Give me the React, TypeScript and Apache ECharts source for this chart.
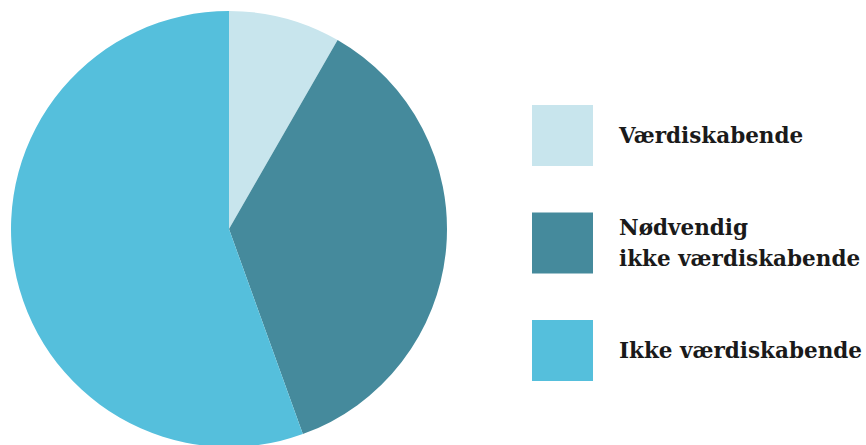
import React, { useEffect, useRef } from "react";
import * as echarts from "echarts";

const categories = ["Værdiskabende", "Nødvendig\nikke værdiskabende", "Ikke værdiskabende"];
const values = [8.3, 36.2, 55.5];
const colors = ["#c8e5ed", "#458a9c", "#55bfdc"];

export default function App() {
  const ref = useRef<HTMLDivElement>(null);
  useEffect(() => {
    document.body.style.margin = "0";
    const chart = echarts.init(ref.current!, null, { renderer: "svg" });
    chart.setOption({
      animation: false,
      backgroundColor: "#ffffff",
      legend: {
        orient: "vertical",
        left: 532,
        top: 105,
        padding: 0,
        itemWidth: 61,
        itemHeight: 61,
        itemGap: 46,
        icon: "rect",
        selectedMode: false,
        data: categories,
        textStyle: {
          fontFamily: "DejaVu Serif",
          fontWeight: "bold",
          fontSize: 21.5,
          lineHeight: 31,
          color: "#1a1a1a",
          padding: [0, 0, 0, 21],
        },
      },
      series: [
        {
          type: "pie",
          center: [229, 229],
          radius: 218,
          startAngle: 90,
          clockwise: true,
          label: { show: false },
          labelLine: { show: false },
          emphasis: { disabled: true },
          data: categories.map((name, i) => ({
            name,
            value: values[i],
            itemStyle: { color: colors[i] },
          })),
        },
      ],
    });
    return () => chart.dispose();
  }, []);
  return <div ref={ref} style={{ width: 866, height: 445 }} />;
}
